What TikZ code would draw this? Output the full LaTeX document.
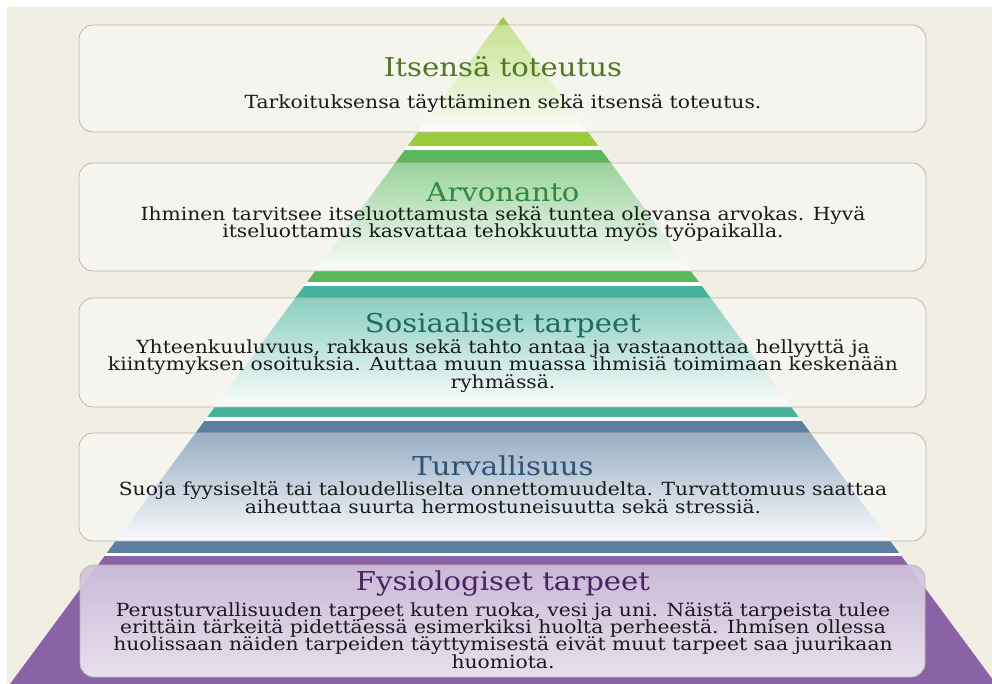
\documentclass[tikz,border=0pt]{standalone}
\usepackage{fontspec}
\setmainfont{DejaVu Serif}[FakeStretch=1.12]
\definecolor{bg}{HTML}{F1EEE4}
\definecolor{cA}{HTML}{9BCB3C}
\definecolor{cB}{HTML}{5CB85F}
\definecolor{cC}{HTML}{45B29B}
\definecolor{cD}{HTML}{5C7EA1}
\definecolor{cE}{HTML}{8A62A6}
\definecolor{tA}{HTML}{4D7A1F}
\definecolor{tB}{HTML}{2E8A3C}
\definecolor{tC}{HTML}{1E6B62}
\definecolor{tD}{HTML}{2A5379}
\definecolor{tE}{HTML}{4A2360}
\definecolor{boxline}{HTML}{BDB8A6}
\definecolor{bodytext}{HTML}{1A1A1A}
\newcommand\mytightlines{\lineskiplimit=-50pt\relax\lineskip=0pt\relax}
\begin{document}
\begin{tikzpicture}[x=1pt,y=-1pt,
  levelbox/.style={draw=boxline,line width=0.8pt,rounded corners=14pt,
    fill=white,fill opacity=0.38,minimum width=847pt,inner sep=0pt},
  basebox/.style={draw=boxline,line width=0.8pt,rounded corners=14pt,
    top color=cE!40!white,bottom color=cE!13!white,fill opacity=0.92,
    minimum width=845pt,inner sep=0pt},
  titletext/.style={anchor=base,inner sep=0pt,font=\fontsize{26}{26}\selectfont},
  bodytext/.style={anchor=base,inner sep=0pt,align=center,text=bodytext,
    font=\fontsize{18.1}{17.3}\selectfont\mytightlines}]
\useasboundingbox (0,0) rectangle (992,684);
\fill[bg] (0,0) rectangle (992,684);
\fill[white] (0,0) rectangle (992,7);
\fill[white] (0,0) rectangle (7,684);
% pyramid
\begin{scope}
\clip (503,17) -- (996,684) -- (10,684) -- cycle;
\fill[white] (0,0) rectangle (992,684);
\fill[cA] (0,0) rectangle (992,25);
\shade[top color=cA!90!white,middle color=cA!50!white,bottom color=cA!4!white] (0,25) rectangle (992,132);
\fill[cA] (0,132) rectangle (992,146);
\fill[cB] (0,150) rectangle (992,163);
\shade[top color=cB,middle color=cB!55!white,bottom color=cB!4!white] (0,163) rectangle (992,271);
\fill[cB] (0,271) rectangle (992,282);
\fill[cC] (0,286) rectangle (992,298);
\shade[top color=cC,middle color=cC!55!white,bottom color=cC!4!white] (0,298) rectangle (992,407);
\fill[cC] (0,407) rectangle (992,417);
\fill[cD] (0,421) rectangle (992,433);
\shade[top color=cD,middle color=cD!60!white,bottom color=cD!6!white] (0,433) rectangle (992,541);
\fill[cD] (0,541) rectangle (992,553);
\fill[cE] (0,556) rectangle (992,684);
\end{scope}
% boxes
\node[levelbox,minimum height=107pt] (box1) at (502.5,78.5) {};
\node[levelbox,minimum height=108pt] (box2) at (502.5,217) {};
\node[levelbox,minimum height=109pt] (box3) at (502.5,352.5) {};
\node[levelbox,minimum height=108pt] (box4) at (502.5,487) {};
\node[basebox,minimum height=112pt] (box5) at (502.5,621) {};
% texts
\node[titletext,text=tA] (t1) at (503,77) {Itsensä toteutus};
\node[bodytext] (b1) at (503,109) {Tarkoituksensa täyttäminen sekä itsensä toteutus.};
\node[titletext,text=tB] (t2) at (503,202) {Arvonanto};
\node[bodytext] (b2) at (503,238) {Ihminen tarvitsee itseluottamusta sekä tuntea olevansa arvokas. Hyvä\\itseluottamus kasvattaa tehokkuutta myös työpaikalla.};
\node[titletext,text=tC] (t3) at (503,332) {Sosiaaliset tarpeet};
\node[bodytext] (b3) at (503,388) {Yhteenkuuluvuus, rakkaus sekä tahto antaa ja vastaanottaa hellyyttä ja\\kiintymyksen osoituksia. Auttaa muun muassa ihmisiä toimimaan keskenään\\ryhmässä.};
\node[titletext,text=tD] (t4) at (503,475) {Turvallisuus};
\node[bodytext] (b4) at (503,513) {Suoja fyysiseltä tai taloudelliselta onnettomuudelta. Turvattomuus saattaa\\aiheuttaa suurta hermostuneisuutta sekä stressiä.};
\node[titletext,text=tE] (t5) at (503,590) {Fysiologiset tarpeet};
\node[bodytext] (b5) at (503,668) {Perusturvallisuuden tarpeet kuten ruoka, vesi ja uni. Näistä tarpeista tulee\\erittäin tärkeitä pidettäessä esimerkiksi huolta perheestä. Ihmisen ollessa\\huolissaan näiden tarpeiden täyttymisestä eivät muut tarpeet saa juurikaan\\huomiota.};
\end{tikzpicture}
\end{document}
